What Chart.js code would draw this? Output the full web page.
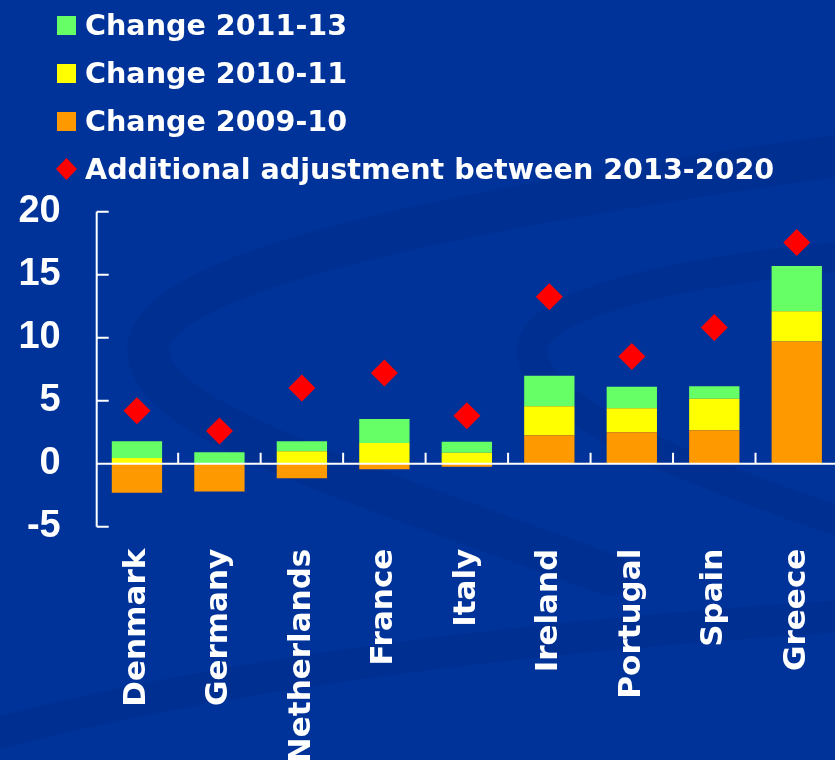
<!DOCTYPE html>
<html>
<head>
    <title>Fiscal adjustment by country</title>
    <script src="https://cdn.jsdelivr.net/npm/chart.js"></script>
    <style>
        body {
            margin: 0;
            background: #003399;
            overflow: hidden;
        }
        .wrap {
            position: relative;
            width: 838px;
            height: 760px;
        }
        .legend {
            position: absolute;
            left: 57px;
            top: 1px;
            list-style: none;
            margin: 0;
            padding: 0;
            font-family: "DejaVu Sans", Verdana, sans-serif;
            font-weight: bold;
            font-size: 28.6px;
            color: #fff;
            white-space: nowrap;
        }
        .legend li {
            height: 48px;
            display: flex;
            align-items: center;
        }
        .legend .box {
            display: inline-block;
            width: 19px;
            height: 19px;
            margin-right: 9px;
        }
        .legend .diamond {
            display: inline-block;
            width: 21px;
            height: 22px;
            margin-left: -1px;
            margin-right: 8px;
            clip-path: polygon(50% 0, 100% 50%, 50% 100%, 0 50%);
        }
    </style>
</head>
<body>
<div class="wrap">
    <canvas id="adjChart" width="838" height="760"></canvas>
    <ul class="legend"></ul>
</div>

<script>
    var countries = ['Denmark', 'Germany', 'Netherlands', 'France', 'Italy', 'Ireland', 'Portugal', 'Spain', 'Greece'];
    var change0910 = [-2.3, -2.2, -1.15, -0.45, -0.25, 2.25, 2.5, 2.65, 9.7];
    var change1011 = [0.45, 0, 0.98, 1.64, 0.87, 2.3, 1.9, 2.5, 2.4];
    var change1113 = [1.33, 0.9, 0.8, 1.9, 0.88, 2.43, 1.7, 1.0, 3.6];
    var adjust1320 = [4.2, 2.6, 6.0, 7.2, 3.8, 13.25, 8.5, 10.8, 17.55];
    var yMin = -5, yMax = 20, yStep = 5;

    // faint swirl bands behind the plot
    var backdrop = {
        id: 'backdrop',
        beforeDraw: function(chart) {
            var ctx = chart.ctx;
            ctx.save();
            ctx.fillStyle = '#003399';
            ctx.fillRect(0, 0, chart.width, chart.height);
            ctx.lineCap = 'round';
            ctx.strokeStyle = 'rgba(0, 25, 100, 0.12)';

            ctx.lineWidth = 42;
            ctx.beginPath();
            ctx.moveTo(880, 150);
            ctx.bezierCurveTo(470, 205, 148, 270, 148, 350);
            ctx.bezierCurveTo(148, 420, 350, 480, 610, 575);
            ctx.stroke();

            ctx.lineWidth = 30;
            ctx.beginPath();
            ctx.moveTo(860, 255);
            ctx.bezierCurveTo(700, 268, 532, 300, 532, 350);
            ctx.bezierCurveTo(532, 405, 660, 462, 860, 528);
            ctx.stroke();

            ctx.lineWidth = 32;
            ctx.beginPath();
            ctx.moveTo(-20, 738);
            ctx.quadraticCurveTo(300, 650, 860, 615);
            ctx.stroke();
            ctx.restore();
        }
    };

    // y axis with inward ticks, zero line with category dividers
    var axisLines = {
        id: 'axisLines',
        afterDatasetsDraw: function(chart) {
            var ctx = chart.ctx;
            var area = chart.chartArea;
            var x = chart.scales.x, y = chart.scales.y;
            var zero = y.getPixelForValue(0);
            var left = area.left + 1;
            ctx.save();
            ctx.strokeStyle = '#ffffff';
            ctx.lineWidth = 2;
            ctx.beginPath();
            ctx.moveTo(left, y.getPixelForValue(yMax));
            ctx.lineTo(left, y.getPixelForValue(yMin));
            y.ticks.forEach(function(t) {
                var py = y.getPixelForValue(t.value);
                ctx.moveTo(left, py);
                ctx.lineTo(left + 12, py);
            });
            ctx.moveTo(left, zero);
            ctx.lineTo(area.right, zero);
            var step = x.getPixelForValue(1) - x.getPixelForValue(0);
            for (var i = 1; i < countries.length; i++) {
                var px = x.getPixelForValue(i) - step / 2;
                ctx.moveTo(px, zero);
                ctx.lineTo(px, zero - 11);
            }
            ctx.stroke();
            ctx.restore();
        }
    };

    var ctx = document.getElementById('adjChart').getContext('2d');
    var adjChart = new Chart(ctx, {
        type: 'bar',
        data: {
            labels: countries,
            datasets: [
                {
                    label: 'Change 2009-10',
                    data: change0910,
                    backgroundColor: '#ff9900',
                    order: 1
                },
                {
                    label: 'Change 2010-11',
                    data: change1011,
                    backgroundColor: '#ffff00',
                    order: 1
                },
                {
                    label: 'Change 2011-13',
                    data: change1113,
                    backgroundColor: '#66ff66',
                    order: 1
                },
                {
                    type: 'line',
                    label: 'Additional adjustment between 2013-2020',
                    data: adjust1320,
                    stack: 'adjustment',
                    showLine: false,
                    pointStyle: 'rectRot',
                    pointRadius: 13.5,
                    pointBackgroundColor: '#ff0000',
                    pointBorderWidth: 0,
                    order: 0
                }
            ]
        },
        options: {
            responsive: false,
            animation: false,
            devicePixelRatio: 1,
            events: [],
            categoryPercentage: 1,
            barPercentage: 0.61,
            layout: {
                autoPadding: false,
                padding: { top: 211.7, left: 0, right: 0, bottom: 0 }
            },
            plugins: {
                legend: { display: false },
                tooltip: { enabled: false }
            },
            scales: {
                x: {
                    stacked: true,
                    offset: true,
                    grid: { display: false, drawTicks: false },
                    border: { display: false },
                    ticks: {
                        color: '#ffffff',
                        font: { family: '"DejaVu Sans", Verdana, sans-serif', weight: 'bold', size: 31 },
                        minRotation: 90,
                        maxRotation: 90,
                        autoSkip: false,
                        padding: 22
                    },
                    afterFit: function(scale) {
                        scale.height = 233.3;
                        scale.paddingLeft = 0;
                        scale.paddingRight = 0;
                    }
                },
                y: {
                    stacked: true,
                    min: yMin,
                    max: yMax,
                    grid: { display: false, drawTicks: false },
                    border: { display: false },
                    ticks: {
                        stepSize: yStep,
                        color: '#ffffff',
                        font: { family: '"Liberation Sans", Arial, sans-serif', weight: 'bold', size: 38 },
                        padding: 35
                    },
                    afterFit: function(scale) {
                        scale.width = 95.7;
                    }
                }
            }
        },
        plugins: [backdrop, axisLines]
    });

    // legend list, newest change first, diamond last
    var ul = document.querySelector('.legend');
    [2, 1, 0, 3].forEach(function(i) {
        var ds = adjChart.data.datasets[i];
        var li = document.createElement('li');
        var mark = document.createElement('span');
        mark.className = ds.type === 'line' ? 'diamond' : 'box';
        mark.style.background = ds.type === 'line' ? ds.pointBackgroundColor : ds.backgroundColor;
        li.appendChild(mark);
        li.appendChild(document.createTextNode(ds.label));
        ul.appendChild(li);
    });
</script>
</body>
</html>
